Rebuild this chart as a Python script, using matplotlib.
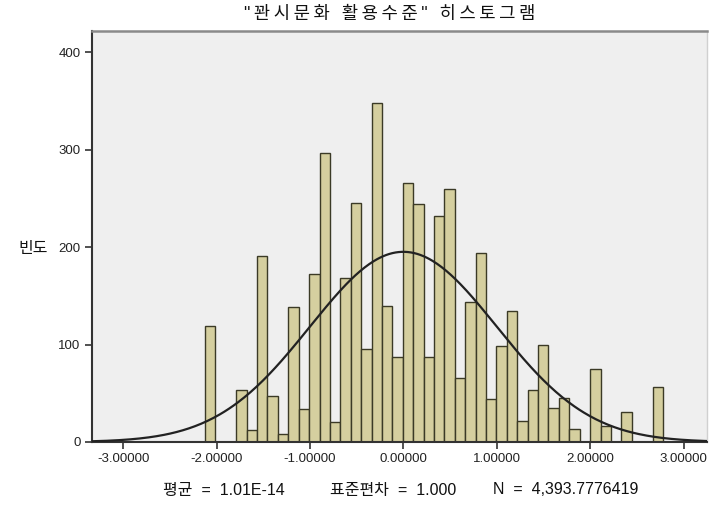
import numpy as np
import matplotlib
matplotlib.use("Agg")
import matplotlib.pyplot as plt

plt.rcParams['font.family'] = ['Liberation Sans', 'Noto Sans CJK KR', 'DejaVu Sans']
plt.rcParams['axes.unicode_minus'] = False

# ---- data ----
title = '"꽌시문화 활용수준" 히스토그램'
ylabel = '빈도'
stats_parts = ['평균  =  1.01E-14', '표준편차  =  1.000', 'N  =  4,393.7776419']
bin_start = -2.123
bin_width = 0.1114
counts = [119, 0, 0, 53, 12, 191, 47, 8, 139, 34, 173, 297, 21, 168, 245, 96,
          348, 140, 87, 266, 244, 87, 232, 260, 66, 144, 194, 44, 99, 135, 22,
          53, 100, 35, 45, 13, 0, 75, 16, 0, 31, 0, 0, 56]
mean = 1.01e-14
sd = 1.0
n_total = 4393.7776419
xticks = [-3, -2, -1, 0, 1, 2, 3]
yticks = [0, 100, 200, 300, 400]
xlim = (-3.336, 3.25)
ylim = (0, 422)

# ---- figure ----
W, H = 709, 508
fig = plt.figure(figsize=(W / 100, H / 100), dpi=100)
ax = fig.add_axes([91.7 / W, (H - 442) / H, (707 - 91.7) / W, (442 - 31) / H])
ax.set_facecolor('#efefef')

lefts = bin_start + bin_width * np.arange(len(counts))
ax.bar(lefts, counts, width=bin_width, align='edge', color='#d5cf9f',
       edgecolor='#3b3a26', linewidth=1.0, zorder=2)

xs = np.linspace(xlim[0], xlim[1], 400)
pdf = np.exp(-0.5 * ((xs - mean) / sd) ** 2) / (sd * np.sqrt(2 * np.pi))
ax.plot(xs, n_total * bin_width * pdf, color='#222222', lw=1.6, zorder=3)

ax.set_xlim(*xlim)
ax.set_ylim(*ylim)
ax.set_xticks(xticks)
ax.set_xticklabels([f'{v:.5f}' for v in xticks], fontsize=9.5, color='#222222')
ax.set_yticks(yticks)
ax.set_yticklabels([str(v) for v in yticks], fontsize=9.5, color='#222222')
ax.tick_params(axis='both', direction='out', length=5, width=1.2, color='#333333', pad=3)

for s in ['left', 'bottom']:
    ax.spines[s].set_color('#333333')
    ax.spines[s].set_linewidth(1.5)
ax.spines['top'].set_color('#8a8a8a')
ax.spines['top'].set_linewidth(1.8)
ax.spines['right'].set_color('#d0d0d0')
ax.spines['right'].set_linewidth(1.0)

spaced_title = '\u2009'.join(title)
fig.text(390 / W, 1 - 15 / H, spaced_title, ha='center', va='center', fontsize=12.8, color='#111111')
fig.text(33 / W, 1 - 248 / H, ylabel, ha='center', va='center', fontsize=11.5, color='#111111')
for xpos, part in zip([163, 330, 493], stats_parts):
    fig.text(xpos / W, 1 - 490 / H, part, ha='left', va='center', fontsize=11.5, color='#111111')

fig.savefig('out.png', dpi=100, facecolor='white')
